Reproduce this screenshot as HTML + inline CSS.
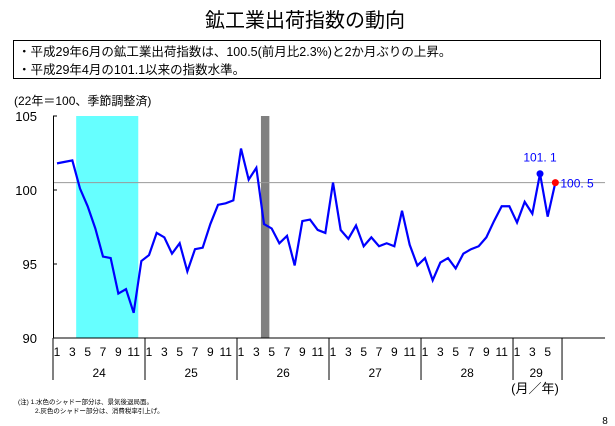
<!DOCTYPE html>
<html><head><meta charset="utf-8">
<style>
body{margin:0;background:#fff;}
svg{display:block;font-family:"Liberation Sans","Noto Sans CJK JP",sans-serif;}
</style></head>
<body>
<svg id="chart" width="615" height="426" viewBox="0 0 615 426">
<text x="305" y="27" font-size="20" text-anchor="middle">鉱工業出荷指数の動向</text>
<rect x="13.5" y="40.5" width="587" height="38" fill="none" stroke="#000" stroke-width="1"/>
<text x="18" y="56" font-size="12.5">・平成29年6月の鉱工業出荷指数は、100.5(前月比2.3%)と2か月ぶりの上昇。</text>
<text x="18" y="74" font-size="12.5">・平成29年4月の101.1以来の指数水準。</text>
<text x="14" y="105" font-size="12">(22年＝100、季節調整済)</text>
<g id="plot"></g>
<text x="535" y="393" font-size="13" text-anchor="middle">(月／年)</text>
<text x="18" y="404" font-size="6.5">(注) 1.水色のシャドー部分は、景気後退局面。</text>
<text x="35" y="413" font-size="6.5">2.灰色のシャドー部分は、消費税率引上げ。</text>
<text x="605" y="424" font-size="10" text-anchor="middle">8</text>
</svg>
<script>
const years = ["24","25","26","27","28","29"];
const yTicks = [90,95,100,105];
const values = [
101.8,101.9,102.0,100.1,98.9,97.4,95.5,95.4,93.0,93.3,91.7,95.2,
95.6,97.1,96.8,95.7,96.4,94.5,96.0,96.1,97.7,99.0,99.1,99.3,
102.8,100.7,101.5,97.7,97.4,96.4,96.9,94.9,97.9,98.0,97.3,97.1,
100.5,97.3,96.7,97.6,96.2,96.8,96.2,96.4,96.2,98.6,96.3,94.9,
95.4,93.9,95.1,95.4,94.7,95.7,96.0,96.2,96.8,97.9,98.9,98.9,
97.8,99.2,98.4,101.1,98.2,100.5];
const refLevel = 100.5;
const recession = [2.5,10.6];
const taxHike = [26.6,27.7];
const peakIndex = 63, lastIndex = 65;

const NS="http://www.w3.org/2000/svg";
const g=document.getElementById('plot');
const X0=57, MW=7.667, Y0=338, YT=116, VMIN=90, VMAX=105;
const xs=i=>X0+i*MW;
const ys=v=>Y0-(v-VMIN)/(VMAX-VMIN)*(Y0-YT);
function mk(tag,attrs){const e=document.createElementNS(NS,tag);for(const k in attrs)e.setAttribute(k,attrs[k]);g.appendChild(e);return e;}

let r=mk('rect',{x:xs(recession[0]),y:YT,width:xs(recession[1])-xs(recession[0]),height:Y0-YT,fill:'#66ffff'});


r=mk('rect',{x:xs(taxHike[0]),y:YT,width:xs(taxHike[1])-xs(taxHike[0]),height:Y0-YT,fill:'#808080'});



const XEND=X0-4+years.length*12*MW;
let l=mk('line',{x1:53,x2:XEND,y1:ys(refLevel),y2:ys(refLevel),stroke:'#999','stroke-width':1});



l=mk('line',{x1:53.5,x2:53.5,y1:YT,y2:Y0,stroke:'#000','stroke-width':1});


l=mk('line',{x1:53,x2:XEND,y1:Y0,y2:Y0,stroke:'#000','stroke-width':1});



yTicks.forEach(v=>{
  const t=mk('text',{x:37,y:ys(v)+5,'font-size':13,'text-anchor':'end'});
  t.textContent=v;
  
  
  const tk=mk('line',{x1:53,x2:57,y1:ys(v),y2:ys(v),stroke:'#000'});
  
  
});

for(let yi=0;yi<=years.length;yi++){
  const sx=yi<years.length?X0-4+yi*12*MW:X0-4+(values.length)*MW+3;
  const d=mk('line',{x1:sx,x2:sx,y1:Y0,y2:380,stroke:'#000','stroke-width':1});
  
  
}
years.forEach((y,yi)=>{
  const nm=Math.min(12,values.length-yi*12);
  for(let m=0;m<nm;m+=2){
    const t=mk('text',{x:xs(yi*12+m),y:356,'font-size':12,'text-anchor':'middle'});
    t.textContent=m+1;
    
    
  }
  const t=mk('text',{x:(xs(yi*12)+xs(yi*12+nm-1))/2,y:377,'font-size':12,'text-anchor':'middle'});
  t.textContent=y;
  
  
});

const p=mk('polyline',{points:values.map((v,i)=>xs(i)+','+ys(v)).join(' '),fill:'none',stroke:'#0000ff','stroke-width':2.2,'stroke-linejoin':'miter'});



let c=mk('circle',{cx:xs(peakIndex),cy:ys(values[peakIndex]),r:3.5,fill:'#0000ff'});


let t=mk('text',{x:xs(peakIndex),y:ys(values[peakIndex])-12,'font-size':12,fill:'#0000ff','text-anchor':'middle'});
t.textContent=values[peakIndex].toFixed(1).replace('.','. ');


c=mk('circle',{cx:xs(lastIndex),cy:ys(values[lastIndex]),r:3.5,fill:'#ff0000'});


t=mk('text',{x:xs(lastIndex)+5,y:ys(values[lastIndex])+5,'font-size':12,fill:'#0000ff'});
t.textContent=values[lastIndex].toFixed(1).replace('.','. ');


</script>
</body></html>
